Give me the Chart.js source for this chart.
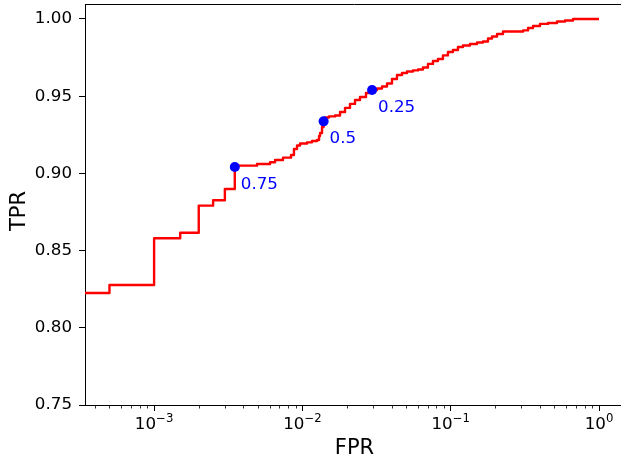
<!DOCTYPE html>
<html><head><meta charset="utf-8">
<script src="https://cdn.jsdelivr.net/npm/chart.js@4.4.1/dist/chart.umd.min.js"></script>
<style>html,body{margin:0;padding:0;background:#fff;overflow:hidden}#wrap{width:624px;height:462px;position:relative}canvas{display:block}</style>
</head><body>
<div id="wrap"><canvas id="c" width="624" height="462" style="width:624px;height:462px"></canvas></div>
<script>
// ROC curve (step points): FPR where TPR jumps, TPR after the jump
const fpr = [1e-4, 5e-4, 1e-3, 1.5e-3, 2e-3, 2.5e-3, 3e-3, 3.5e-3,
  4.94e-3, 6.05e-3, 6.54e-3, 7.40e-3, 8.38e-3, 8.77e-3, 9.20e-3, 9.64e-3, 1.075e-2, 1.161e-2, 1.255e-2, 1.295e-2, 1.315e-2, 1.356e-2, 1.39e-2, 1.42e-2,
  1.511e-2, 1.659e-2, 1.794e-2, 1.938e-2, 2.094e-2, 2.263e-2, 2.445e-2, 2.684e-2, 2.946e-2, 3.184e-2, 3.441e-2, 3.718e-2, 4.018e-2, 4.342e-2, 4.692e-2, 5.071e-2, 5.566e-2, 6.015e-2, 6.500e-2, 7.024e-2, 7.591e-2, 8.203e-2, 8.865e-2, 9.580e-2,
  0.1035, 0.1119, 0.1209, 0.1349, 0.1504, 0.1651, 0.1784, 0.1899, 0.2052, 0.2253,
  0.3075, 0.3323, 0.3590, 0.4000, 0.4530, 0.5209, 0.5898, 0.6679, 1.0];
const tpr = [0.8225, 0.8277, 0.8580, 0.8616, 0.8791, 0.8826, 0.8899, 0.9050,
  0.9061, 0.9072, 0.9087, 0.9102, 0.9119, 0.9158, 0.9181, 0.9194, 0.9201, 0.9210, 0.9216, 0.9242, 0.9262, 0.9300, 0.9336, 0.9362,
  0.9369, 0.9375, 0.9398, 0.9424, 0.9450, 0.9475, 0.9495, 0.9521, 0.9540, 0.9550, 0.9563, 0.9582, 0.9611, 0.9637, 0.9650, 0.9660, 0.9667, 0.9673, 0.9686, 0.9709, 0.9728, 0.9741, 0.9764, 0.9786,
  0.9799, 0.9819, 0.9828, 0.9838, 0.9848, 0.9854, 0.9874, 0.9887, 0.9903, 0.9919,
  0.9926, 0.9942, 0.9955, 0.9968, 0.9974, 0.9984, 0.9990, 1.0, 1.0];
// threshold markers
const thrFpr = [0.0035, 0.0139, 0.0295];
const thrTpr = [0.9041, 0.9337, 0.9540];
const thrLabels = ['0.75', '0.5', '0.25'];
// ticks
const xTickValues = [1e-3, 1e-2, 1e-1, 1];
const xTickExponents = ['\u22123', '\u22122', '\u22121', '0'];
const yTickValues = [0.75, 0.80, 0.85, 0.90, 0.95, 1.00];
const yTickLabels = ['0.75', '0.80', '0.85', '0.90', '0.95', '1.00'];
const xMin = 3.42e-4, xMax = 1.474, yMin = 0.75, yMax = 1.0097;

const FONT = 'DejaVu Sans';
const deco = {
  id: 'deco',
  afterDatasetsDraw(chart) {
    const ctx = chart.ctx, xs = chart.scales.x, ys = chart.scales.y;
    ctx.save();
    ctx.fillStyle = '#0000ff';
    ctx.font = '16.7px "' + FONT + '"';
    ctx.textAlign = 'left';
    ctx.textBaseline = 'alphabetic';
    for (let i = 0; i < thrLabels.length; i++) {
      const px = xs.getPixelForValue(thrFpr[i]);
      const py = ys.getPixelForValue(thrTpr[i]);
      ctx.fillText(thrLabels[i], px + 6, py + 22);
    }
    ctx.restore();
  },
  afterDraw(chart) {
    const ctx = chart.ctx, a = chart.chartArea, xs = chart.scales.x;
    ctx.save();
    ctx.strokeStyle = '#000';
    ctx.lineWidth = 1;
    ctx.beginPath();
    ctx.moveTo(a.left, a.top + 0.5); ctx.lineTo(a.right, a.top + 0.5);
    ctx.moveTo(a.right - 0.5, a.top); ctx.lineTo(a.right - 0.5, a.bottom);
    ctx.stroke();
    // minor ticks
    ctx.lineWidth = 0.8;
    ctx.beginPath();
    for (let e = -4; e <= 0; e++) {
      for (let k = 2; k <= 9; k++) {
        const v = k * Math.pow(10, e);
        if (v < xMin || v > xMax) continue;
        const px = Math.round(xs.getPixelForValue(v)) + 0.5;
        ctx.moveTo(px, a.bottom); ctx.lineTo(px, a.bottom + 3.5);
      }
    }
    ctx.stroke();
    // x tick labels 10^n
    ctx.fillStyle = '#000';
    ctx.textBaseline = 'alphabetic';
    const big = 16.7, small = 11.7;
    for (let i = 0; i < xTickValues.length; i++) {
      const px = xs.getPixelForValue(xTickValues[i]);
      ctx.font = big + 'px "' + FONT + '"';
      const w1 = ctx.measureText('10').width;
      ctx.font = small + 'px "' + FONT + '"';
      const w2 = ctx.measureText(xTickExponents[i]).width;
      const x0 = px - (w1 + w2) / 2;
      const base = a.bottom + 24;
      ctx.textAlign = 'left';
      ctx.font = big + 'px "' + FONT + '"';
      ctx.fillText('10', x0, base);
      ctx.font = small + 'px "' + FONT + '"';
      ctx.fillText(xTickExponents[i], x0 + w1, base - 7.5);
    }
    // axis titles
    ctx.font = '21px "' + FONT + '"';
    ctx.textAlign = 'center';
    ctx.fillText('FPR', (a.left + a.right) / 2, 454);
    ctx.save();
    ctx.translate(25, 211);
    ctx.rotate(-Math.PI / 2);
    ctx.textBaseline = 'alphabetic';
    ctx.fillText('TPR', 0, 0);
    ctx.restore();
    ctx.restore();
  }
};

new Chart(document.getElementById('c'), {
  type: 'line',
  data: {
    datasets: [
      {
        data: thrFpr.map((x, i) => ({x: x, y: thrTpr[i]})),
        showLine: false,
        pointRadius: 5,
        pointBackgroundColor: '#0000ff',
        pointBorderWidth: 0,
        pointBorderColor: '#0000ff'
      },
      {
        data: fpr.map((x, i) => ({x: x, y: tpr[i]})),
        stepped: true,
        borderColor: '#ff0000',
        borderWidth: 2.4,
        borderJoinStyle: 'round',
        pointRadius: 0,
        fill: false
      }
    ]
  },
  options: {
    responsive: false,
    animation: false,
    devicePixelRatio: 1,
    layout: {autoPadding: false, padding: {top: 4, right: 0, left: 0, bottom: 0}},
    plugins: {legend: {display: false}, tooltip: {enabled: false}},
    scales: {
      x: {
        type: 'logarithmic',
        min: xMin, max: xMax,
        bounds: 'data',
        afterBuildTicks: (s) => { s.ticks = xTickValues.map(v => ({value: v})); },
        afterFit: (s) => { s.height = 57; s.paddingLeft = 0; s.paddingRight = 0; },
        grid: {drawOnChartArea: false, drawTicks: true, tickLength: 6, tickColor: '#000', tickWidth: 1},
        border: {display: true, color: '#000', width: 1},
        ticks: {callback: () => '', autoSkip: false, maxRotation: 0}
      },
      y: {
        type: 'linear',
        min: yMin, max: yMax,
        afterBuildTicks: (s) => { s.ticks = yTickValues.map(v => ({value: v})); },
        afterFit: (s) => { s.width = 85; s.paddingTop = 0; s.paddingBottom = 0; },
        grid: {drawOnChartArea: false, drawTicks: true, tickLength: 6, tickColor: '#000', tickWidth: 1},
        border: {display: true, color: '#000', width: 1},
        ticks: {
          padding: 7,
          color: '#000',
          font: {family: FONT, size: 16.7},
          callback: (v, i) => yTickLabels[i]
        }
      }
    }
  },
  plugins: [deco]
});
</script>
</body></html>
